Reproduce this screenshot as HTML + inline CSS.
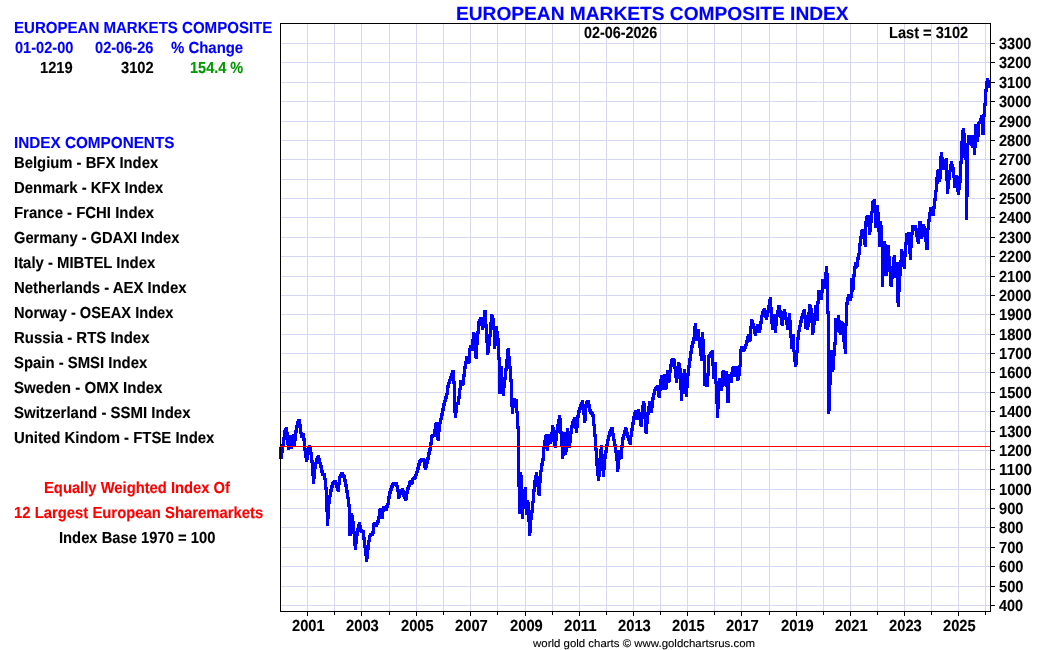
<!DOCTYPE html>
<html lang="en"><head><meta charset="utf-8"><title>European Markets Composite Index</title>
<style>
html,body{margin:0;padding:0;background:#fff;}
body{width:1050px;height:650px;position:relative;overflow:hidden;font-family:"Liberation Sans",sans-serif;}
.t{position:absolute;white-space:nowrap;font-weight:bold;font-size:16px;line-height:20px;height:20px;color:#000;transform-origin:0 0;text-rendering:geometricPrecision;-webkit-text-stroke:0.12px currentColor;}
.b{color:#0000ff;}
.g{color:#009900;}
.r{color:#ff0000;}
.title{font-size:19px;line-height:24px;height:24px;}
.foot{font-weight:normal;font-size:11px;line-height:14px;height:14px;}
</style></head>
<body>
<svg width="1050" height="650" viewBox="0 0 1050 650" style="position:absolute;left:0;top:0">
<g shape-rendering="crispEdges">
<path d="M307.5 24V611M334.5 24V611M361.5 24V611M389.5 24V611M416.5 24V611M443.5 24V611M470.5 24V611M497.5 24V611M525.5 24V611M552.5 24V611M579.5 24V611M606.5 24V611M633.5 24V611M660.5 24V611M687.5 24V611M714.5 24V611M741.5 24V611M769.5 24V611M796.5 24V611M823.5 24V611M850.5 24V611M877.5 24V611M904.5 24V611M931.5 24V611M958.5 24V611M985.5 24V611M281 43.5H990M281 62.5H990M281 82.5H990M281 101.5H990M281 121.5H990M281 140.5H990M281 159.5H990M281 179.5H990M281 198.5H990M281 217.5H990M281 237.5H990M281 256.5H990M281 276.5H990M281 295.5H990M281 314.5H990M281 334.5H990M281 353.5H990M281 372.5H990M281 392.5H990M281 411.5H990M281 431.5H990M281 450.5H990M281 469.5H990M281 489.5H990M281 508.5H990M281 527.5H990M281 547.5H990M281 566.5H990M281 586.5H990M281 605.5H990" stroke="#d5d7f4" stroke-width="1" fill="none"/>
</g>
<path d="M279 447h2v12h-2zM281 444h1v15h-1zM282 437h1v22h-1zM283 430h1v23h-1zM284 428h1v19h-1zM285 427h1v13h-1zM286 427h1v18h-1zM287 427h1v23h-1zM288 432h1v18h-1zM289 435h1v15h-1zM290 435h2v14h-2zM292 434h1v15h-1zM293 434h1v13h-1zM294 430h1v17h-1zM295 425h1v22h-1zM296 421h1v20h-1zM297 419h1v14h-1zM298 419h1v9h-1zM299 419h1v15h-1zM300 419h1v19h-1zM301 424h1v14h-1zM302 432h1v9h-1zM303 433h1v18h-1zM304 433h1v25h-1zM305 438h1v24h-1zM306 448h1v14h-1zM307 447h1v15h-1zM308 445h1v15h-1zM309 445h1v10h-1zM310 445h1v18h-1zM311 446h1v30h-1zM312 452h1v32h-1zM313 460h1v24h-1zM314 462h1v22h-1zM315 458h1v21h-1zM316 456h1v13h-1zM317 455h2v9h-2zM319 455h1v13h-1zM320 458h1v15h-1zM321 462h1v14h-1zM322 465h1v11h-1zM323 470h1v10h-1zM324 473h1v17h-1zM325 473h1v39h-1zM326 478h1v48h-1zM327 487h1v39h-1zM328 495h1v31h-1zM329 489h1v30h-1zM330 485h1v19h-1zM331 482h1v15h-1zM332 481h1v11h-1zM333 480h1v8h-1zM334 480h1v5h-1zM335 480h1v8h-1zM336 480h1v11h-1zM337 482h1v10h-1zM338 476h1v16h-1zM339 474h1v18h-1zM340 472h1v13h-1zM341 472h2v6h-2zM343 472h1v10h-1zM344 474h1v13h-1zM345 475h1v18h-1zM346 479h1v20h-1zM347 484h1v23h-1zM348 490h1v46h-1zM349 497h1v39h-1zM350 504h1v32h-1zM351 513h1v23h-1zM352 513h1v21h-1zM353 515h1v31h-1zM354 521h1v29h-1zM355 531h1v19h-1zM356 528h1v22h-1zM357 524h1v20h-1zM358 522h1v14h-1zM359 522h1v10h-1zM360 522h1v11h-1zM361 525h1v8h-1zM362 529h1v11h-1zM363 530h1v18h-1zM364 530h1v26h-1zM365 537h1v25h-1zM366 545h1v17h-1zM367 540h1v22h-1zM368 535h1v24h-1zM369 533h1v17h-1zM370 533h1v9h-1zM371 531h1v6h-1zM372 523h1v13h-1zM373 522h1v14h-1zM374 522h1v12h-1zM375 522h1v5h-1zM376 520h1v7h-1zM377 516h1v11h-1zM378 509h1v16h-1zM379 508h1v15h-1zM380 508h2v11h-2zM382 506h2v13h-2zM384 506h1v6h-1zM385 505h1v6h-1zM386 503h1v8h-1zM387 496h1v15h-1zM388 491h1v17h-1zM389 488h1v17h-1zM390 485h1v14h-1zM391 483h1v11h-1zM392 482h1v9h-1zM393 482h1v6h-1zM394 482h1v4h-1zM395 482h1v5h-1zM396 482h1v10h-1zM397 482h1v17h-1zM398 485h1v14h-1zM399 489h1v10h-1zM400 489h1v9h-1zM401 488h1v7h-1zM402 488h1v9h-1zM403 488h1v11h-1zM404 490h1v11h-1zM405 491h1v10h-1zM406 487h1v14h-1zM407 485h1v15h-1zM408 481h1v13h-1zM409 480h1v10h-1zM410 480h1v7h-1zM411 478h1v7h-1zM412 477h1v8h-1zM413 476h1v8h-1zM414 474h1v6h-1zM415 471h1v9h-1zM416 467h1v12h-1zM417 463h1v13h-1zM418 460h1v13h-1zM419 459h1v11h-1zM420 458h1v8h-1zM421 458h1v5h-1zM422 458h1v4h-1zM423 458h1v10h-1zM424 458h1v12h-1zM425 459h1v11h-1zM426 457h1v13h-1zM427 452h1v16h-1zM428 448h1v16h-1zM429 442h1v18h-1zM430 435h1v20h-1zM431 434h1v17h-1zM432 434h1v11h-1zM433 429h1v9h-1zM434 423h1v14h-1zM435 422h1v15h-1zM436 422h1v18h-1zM437 422h2v19h-2zM439 418h1v23h-1zM440 413h1v19h-1zM441 408h1v16h-1zM442 403h1v17h-1zM443 400h1v16h-1zM444 396h1v15h-1zM445 393h1v13h-1zM446 385h1v17h-1zM447 382h1v17h-1zM448 379h1v16h-1zM449 376h1v12h-1zM450 373h1v11h-1zM451 370h1v11h-1zM452 370h1v14h-1zM453 370h1v43h-1zM454 370h1v48h-1zM455 381h1v37h-1zM456 402h1v16h-1zM457 396h1v17h-1zM458 388h1v17h-1zM459 380h1v25h-1zM460 380h1v19h-1zM461 380h1v10h-1zM462 374h1v12h-1zM463 366h1v20h-1zM464 361h1v24h-1zM465 356h1v21h-1zM466 356h1v13h-1zM467 356h1v8h-1zM468 348h1v16h-1zM469 345h1v19h-1zM470 345h1v18h-1zM471 339h1v12h-1zM472 332h2v19h-2zM474 332h1v26h-1zM475 333h1v26h-1zM476 331h1v28h-1zM477 321h1v38h-1zM478 319h1v26h-1zM479 317h1v17h-1zM480 317h1v9h-1zM481 317h2v13h-2zM483 310h1v20h-1zM484 310h1v18h-1zM485 310h1v33h-1zM486 310h1v45h-1zM487 324h1v31h-1zM488 334h1v21h-1zM489 322h1v31h-1zM490 314h1v32h-1zM491 314h1v23h-1zM492 314h1v16h-1zM493 315h1v34h-1zM494 318h1v31h-1zM495 326h1v23h-1zM496 326h1v20h-1zM497 326h1v34h-1zM498 331h1v63h-1zM499 338h1v56h-1zM500 357h1v37h-1zM501 366h1v28h-1zM502 366h1v30h-1zM503 377h1v19h-1zM504 368h1v28h-1zM505 359h1v29h-1zM506 349h1v31h-1zM507 348h1v23h-1zM508 348h1v21h-1zM509 348h1v34h-1zM510 356h1v51h-1zM511 366h1v48h-1zM512 379h1v35h-1zM513 398h1v16h-1zM514 398h1v10h-1zM515 398h1v15h-1zM516 399h1v30h-1zM517 399h1v88h-1zM518 411h1v103h-1zM519 426h1v88h-1zM520 472h1v42h-1zM521 472h1v47h-1zM522 475h1v44h-1zM523 489h1v30h-1zM524 487h1v22h-1zM525 487h2v28h-2zM527 500h1v22h-1zM528 500h1v36h-1zM529 502h1v34h-1zM530 510h1v26h-1zM531 501h1v32h-1zM532 489h1v31h-1zM533 480h1v33h-1zM534 475h1v28h-1zM535 472h1v20h-1zM536 472h1v15h-1zM537 472h1v23h-1zM538 476h1v20h-1zM539 470h1v26h-1zM540 463h1v33h-1zM541 458h1v25h-1zM542 446h1v26h-1zM543 440h1v26h-1zM544 435h1v26h-1zM545 434h1v15h-1zM546 434h3v17h-3zM549 434h1v11h-1zM550 432h1v12h-1zM551 425h1v19h-1zM552 425h1v17h-1zM553 425h1v22h-1zM554 427h1v21h-1zM555 430h1v18h-1zM556 424h1v24h-1zM557 419h1v22h-1zM558 415h1v18h-1zM559 415h1v19h-1zM560 415h1v32h-1zM561 418h1v41h-1zM562 431h1v28h-1zM563 432h1v27h-1zM564 432h1v24h-1zM565 432h1v23h-1zM566 428h1v27h-1zM567 428h1v24h-1zM568 428h1v20h-1zM569 431h1v17h-1zM570 425h1v23h-1zM571 421h1v22h-1zM572 419h1v15h-1zM573 417h1v11h-1zM574 417h1v12h-1zM575 417h1v16h-1zM576 415h1v18h-1zM577 410h1v23h-1zM578 407h1v21h-1zM579 404h1v14h-1zM580 402h1v11h-1zM581 400h1v10h-1zM582 400h1v15h-1zM583 400h1v23h-1zM584 404h1v19h-1zM585 401h1v22h-1zM586 400h1v21h-1zM587 400h1v8h-1zM588 400h1v12h-1zM589 400h1v14h-1zM590 404h1v11h-1zM591 409h1v8h-1zM592 411h1v15h-1zM593 412h1v25h-1zM594 414h1v37h-1zM595 424h1v42h-1zM596 434h1v42h-1zM597 448h1v33h-1zM598 458h1v23h-1zM599 449h1v32h-1zM600 445h1v32h-1zM601 445h1v26h-1zM602 445h1v32h-1zM603 454h1v23h-1zM604 450h1v27h-1zM605 444h1v26h-1zM606 439h1v20h-1zM607 435h1v18h-1zM608 431h1v16h-1zM609 429h1v12h-1zM610 427h1v10h-1zM611 427h1v9h-1zM612 427h1v14h-1zM613 427h1v20h-1zM614 433h1v20h-1zM615 439h1v22h-1zM616 444h1v28h-1zM617 450h2v22h-2zM619 450h1v19h-1zM620 445h1v15h-1zM621 437h1v22h-1zM622 434h1v25h-1zM623 430h1v18h-1zM624 427h1v13h-1zM625 427h1v9h-1zM626 427h1v11h-1zM627 428h1v13h-1zM628 432h1v12h-1zM629 435h1v10h-1zM630 428h1v17h-1zM631 422h1v23h-1zM632 416h1v21h-1zM633 412h1v19h-1zM634 410h1v15h-1zM635 410h2v10h-2zM637 409h2v11h-2zM639 409h1v17h-1zM640 412h1v15h-1zM641 405h1v22h-1zM642 401h1v26h-1zM643 401h1v18h-1zM644 401h1v32h-1zM645 403h1v31h-1zM646 412h1v22h-1zM647 406h1v28h-1zM648 401h1v23h-1zM649 401h1v14h-1zM650 401h1v12h-1zM651 397h1v16h-1zM652 393h1v20h-1zM653 389h1v19h-1zM654 387h1v13h-1zM655 386h1v9h-1zM656 385h1v6h-1zM657 385h1v12h-1zM658 385h1v13h-1zM659 379h1v19h-1zM660 375h1v23h-1zM661 375h1v16h-1zM662 375h1v15h-1zM663 374h3v16h-3zM666 370h1v20h-1zM667 370h1v19h-1zM668 370h1v13h-1zM669 364h1v19h-1zM670 359h1v23h-1zM671 358h1v15h-1zM672 358h1v9h-1zM673 358h1v11h-1zM674 358h1v20h-1zM675 359h1v24h-1zM676 366h1v17h-1zM677 362h1v21h-1zM678 362h1v17h-1zM679 362h1v28h-1zM680 363h1v38h-1zM681 368h1v33h-1zM682 373h1v28h-1zM683 369h2v25h-2zM685 369h1v28h-1zM686 373h1v24h-1zM687 365h1v32h-1zM688 358h1v30h-1zM689 351h1v25h-1zM690 345h1v23h-1zM691 341h1v20h-1zM692 337h1v17h-1zM693 326h1v22h-1zM694 323h1v21h-1zM695 323h2v18h-2zM697 329h1v12h-1zM698 329h1v19h-1zM699 329h1v27h-1zM700 337h1v24h-1zM701 332h2v29h-2zM703 332h1v54h-1zM704 339h1v47h-1zM705 355h1v32h-1zM706 373h1v14h-1zM707 355h1v32h-1zM708 354h1v33h-1zM709 352h1v24h-1zM710 351h1v7h-1zM711 350h1v16h-1zM712 350h2v29h-2zM714 362h1v22h-1zM715 362h1v42h-1zM716 362h1v56h-1zM717 381h1v37h-1zM718 378h1v40h-1zM719 378h1v31h-1zM720 378h1v13h-1zM721 371h1v20h-1zM722 370h1v21h-1zM723 370h1v17h-1zM724 370h1v16h-1zM725 371h1v16h-1zM726 371h2v32h-2zM728 374h2v29h-2zM730 372h1v11h-1zM731 367h1v16h-1zM732 366h1v17h-1zM733 366h3v11h-3zM736 366h2v15h-2zM738 365h1v16h-1zM739 349h1v31h-1zM740 346h1v30h-1zM741 346h1v21h-1zM742 346h2v6h-2zM744 344h1v8h-1zM745 340h1v11h-1zM746 336h1v13h-1zM747 334h1v12h-1zM748 334h1v9h-1zM749 326h1v16h-1zM750 319h1v23h-1zM751 319h1v22h-1zM752 319h1v10h-1zM753 320h1v14h-1zM754 323h1v13h-1zM755 326h1v10h-1zM756 324h1v12h-1zM757 324h2v9h-2zM759 321h1v12h-1zM760 315h1v18h-1zM761 311h1v19h-1zM762 309h1v15h-1zM763 308h1v9h-1zM764 308h1v10h-1zM765 308h1v12h-1zM766 310h1v10h-1zM767 305h1v15h-1zM768 299h1v18h-1zM769 297h1v16h-1zM770 297h1v27h-1zM771 297h1v33h-1zM772 307h1v23h-1zM773 314h1v16h-1zM774 314h2v19h-2zM776 310h1v23h-1zM777 305h1v21h-1zM778 305h1v12h-1zM779 305h1v13h-1zM780 305h1v20h-1zM781 310h1v16h-1zM782 311h1v15h-1zM783 309h1v17h-1zM784 309h1v11h-1zM785 309h1v16h-1zM786 312h1v18h-1zM787 317h1v13h-1zM788 313h1v17h-1zM789 313h1v25h-1zM790 313h1v36h-1zM791 320h1v29h-1zM792 334h1v18h-1zM793 334h1v28h-1zM794 334h1v33h-1zM795 350h1v17h-1zM796 337h1v30h-1zM797 330h1v35h-1zM798 325h1v28h-1zM799 320h1v20h-1zM800 316h1v16h-1zM801 313h1v14h-1zM802 310h1v13h-1zM803 309h1v10h-1zM804 309h2v20h-2zM806 315h1v15h-1zM807 312h1v18h-1zM808 304h1v26h-1zM809 304h1v23h-1zM810 304h1v19h-1zM811 305h1v30h-1zM812 308h1v27h-1zM813 313h1v22h-1zM814 305h1v28h-1zM815 305h1v20h-1zM816 301h1v20h-1zM817 290h2v31h-2zM819 290h1v14h-1zM820 290h1v10h-1zM821 279h2v21h-2zM823 279h1v14h-1zM824 272h1v17h-1zM825 266h1v23h-1zM826 266h1v48h-1zM827 266h1v148h-1zM828 273h1v141h-1zM829 311h1v103h-1zM830 350h1v61h-1zM831 350h1v35h-1zM832 350h1v22h-1zM833 342h1v30h-1zM834 318h1v52h-1zM835 318h1v38h-1zM836 318h1v27h-1zM837 315h1v17h-1zM838 315h1v18h-1zM839 315h1v20h-1zM840 320h1v15h-1zM841 321h1v14h-1zM842 321h1v21h-1zM843 322h1v27h-1zM844 323h1v31h-1zM845 302h1v52h-1zM846 297h1v57h-1zM847 294h1v32h-1zM848 294h1v11h-1zM849 294h1v7h-1zM850 278h2v23h-2zM852 274h1v24h-1zM853 266h1v26h-1zM854 262h1v28h-1zM855 262h1v15h-1zM856 257h1v12h-1zM857 253h1v15h-1zM858 243h1v24h-1zM859 236h1v24h-1zM860 230h1v25h-1zM861 229h1v17h-1zM862 229h1v10h-1zM863 229h1v16h-1zM864 221h1v26h-1zM865 216h1v31h-1zM866 215h1v32h-1zM867 215h1v12h-1zM868 215h2v20h-2zM870 211h1v24h-1zM871 201h1v31h-1zM872 200h1v23h-1zM873 199h1v14h-1zM874 199h2v29h-2zM876 205h1v23h-1zM877 205h1v27h-1zM878 205h1v42h-1zM879 212h1v35h-1zM880 221h1v26h-1zM881 221h1v66h-1zM882 225h1v62h-1zM883 241h1v46h-1zM884 241h2v35h-2zM886 244h1v32h-1zM887 245h1v31h-1zM888 245h1v27h-1zM889 245h1v41h-1zM890 256h1v31h-1zM891 266h1v21h-1zM892 257h1v30h-1zM893 255h1v24h-1zM894 255h2v23h-2zM896 262h1v41h-1zM897 262h2v45h-2zM899 260h1v47h-1zM900 249h1v43h-1zM901 249h1v27h-1zM902 249h1v18h-1zM903 251h1v18h-1zM904 242h1v27h-1zM905 233h1v36h-1zM906 233h1v24h-1zM907 232h1v13h-1zM908 232h1v22h-1zM909 232h2v28h-2zM911 225h1v35h-1zM912 225h1v23h-1zM913 225h1v10h-1zM914 225h1v6h-1zM915 225h1v12h-1zM916 225h1v17h-1zM917 228h1v16h-1zM918 221h2v23h-2zM920 221h2v18h-2zM922 224h1v15h-1zM923 224h1v13h-1zM924 224h1v18h-1zM925 226h1v24h-1zM926 228h1v22h-1zM927 219h1v31h-1zM928 212h1v38h-1zM929 207h1v23h-1zM930 207h1v15h-1zM931 207h1v9h-1zM932 206h1v10h-1zM933 198h1v18h-1zM934 190h1v26h-1zM935 177h1v32h-1zM936 170h1v31h-1zM937 169h1v23h-1zM938 169h1v15h-1zM939 156h1v26h-1zM940 152h1v30h-1zM941 152h1v27h-1zM942 152h1v18h-1zM943 157h1v13h-1zM944 159h1v11h-1zM945 158h1v23h-1zM946 158h2v36h-2zM948 170h1v24h-1zM949 164h1v25h-1zM950 161h1v19h-1zM951 161h1v11h-1zM952 161h1v17h-1zM953 164h1v24h-1zM954 167h1v21h-1zM955 175h1v13h-1zM956 175h1v17h-1zM957 175h1v20h-1zM958 176h1v19h-1zM959 161h1v34h-1zM960 141h1v49h-1zM961 130h1v53h-1zM962 128h1v36h-1zM963 128h1v30h-1zM964 128h1v32h-1zM965 133h1v87h-1zM966 143h1v77h-1zM967 135h1v85h-1zM968 135h1v62h-1zM969 135h1v10h-1zM970 135h1v11h-1zM971 135h2v13h-2zM973 135h1v20h-1zM974 124h2v31h-2zM976 124h1v24h-1zM977 122h1v20h-1zM978 121h1v21h-1zM979 118h1v19h-1zM980 115h1v9h-1zM981 115h1v20h-1zM982 114h1v21h-1zM983 103h1v32h-1zM984 89h1v46h-1zM985 81h1v36h-1zM986 78h1v28h-1zM987 78h1v14h-1zM988 78h1v10h-1zM989 80h1v8h-1z" fill="#0000ff" shape-rendering="crispEdges"/>
<g shape-rendering="crispEdges">
<rect x="280.5" y="23.5" width="710" height="588" fill="none" stroke="#000" stroke-width="1"/>
<path d="M991 43.5h4M991 62.5h4M991 82.5h4M991 101.5h4M991 121.5h4M991 140.5h4M991 159.5h4M991 179.5h4M991 198.5h4M991 217.5h4M991 237.5h4M991 256.5h4M991 276.5h4M991 295.5h4M991 314.5h4M991 334.5h4M991 353.5h4M991 372.5h4M991 392.5h4M991 411.5h4M991 431.5h4M991 450.5h4M991 469.5h4M991 489.5h4M991 508.5h4M991 527.5h4M991 547.5h4M991 566.5h4M991 586.5h4M991 605.5h4M307.5 612v4M334.5 612v3M361.5 612v4M389.5 612v3M416.5 612v4M443.5 612v3M470.5 612v4M497.5 612v3M525.5 612v4M552.5 612v3M579.5 612v4M606.5 612v3M633.5 612v4M660.5 612v3M687.5 612v4M714.5 612v3M741.5 612v4M769.5 612v3M796.5 612v4M823.5 612v3M850.5 612v4M877.5 612v3M904.5 612v4M931.5 612v3M958.5 612v4M985.5 612v3" stroke="#000" stroke-width="1" fill="none"/>
<path d="M280 446.5H990" stroke="#ff0000" stroke-width="1" fill="none"/>
</g>
</svg>
<div class="t b" style="left:14.00px;top:19.00px;transform:scaleX(0.9405)">EUROPEAN MARKETS COMPOSITE</div>
<div class="t b" style="left:14.89px;top:39.00px;transform:scaleX(0.9109)">01-02-00</div>
<div class="t b" style="left:94.69px;top:39.00px;transform:scaleX(0.9132)">02-06-26</div>
<div class="t b" style="left:170.98px;top:39.00px;transform:scaleX(0.9332)">% Change</div>
<div class="t " style="left:40.36px;top:59.00px;transform:scaleX(0.9182)">1219</div>
<div class="t " style="left:120.60px;top:59.00px;transform:scaleX(0.9170)">3102</div>
<div class="t g" style="left:189.78px;top:59.00px;transform:scaleX(0.9065)">154.4 %</div>
<div class="t b" style="left:14.00px;top:134.00px;transform:scaleX(0.9548)">INDEX COMPONENTS</div>
<div class="t " style="left:14.00px;top:154.00px;transform:scaleX(0.9267)">Belgium - BFX Index</div>
<div class="t " style="left:14.00px;top:179.00px;transform:scaleX(0.9275)">Denmark - KFX Index</div>
<div class="t " style="left:14.00px;top:204.00px;transform:scaleX(0.9327)">France - FCHI Index</div>
<div class="t " style="left:14.00px;top:229.00px;transform:scaleX(0.9163)">Germany - GDAXI Index</div>
<div class="t " style="left:14.00px;top:254.00px;transform:scaleX(0.9307)">Italy - MIBTEL Index</div>
<div class="t " style="left:14.00px;top:279.00px;transform:scaleX(0.9314)">Netherlands - AEX Index</div>
<div class="t " style="left:14.00px;top:304.00px;transform:scaleX(0.9144)">Norway - OSEAX Index</div>
<div class="t " style="left:14.00px;top:329.00px;transform:scaleX(0.9347)">Russia - RTS Index</div>
<div class="t " style="left:14.00px;top:354.00px;transform:scaleX(0.9308)">Spain - SMSI Index</div>
<div class="t " style="left:14.00px;top:379.00px;transform:scaleX(0.9435)">Sweden - OMX Index</div>
<div class="t " style="left:14.00px;top:404.00px;transform:scaleX(0.9363)">Switzerland - SSMI Index</div>
<div class="t " style="left:14.00px;top:429.00px;transform:scaleX(0.9312)">United Kindom - FTSE Index</div>
<div class="t r" style="left:44.09px;top:479.00px;transform:scaleX(0.9232)">Equally Weighted Index Of</div>
<div class="t r" style="left:14.05px;top:504.00px;transform:scaleX(0.9280)">12 Largest European Sharemarkets</div>
<div class="t " style="left:59.29px;top:529.00px;transform:scaleX(0.9230)">Index Base 1970 = 100</div>
<div class="t b title" style="left:455.51px;top:3.00px;transform:scaleX(1.0078)">EUROPEAN MARKETS COMPOSITE INDEX</div>
<div class="t " style="left:584.00px;top:24.00px;transform:scaleX(0.8957)">02-06-2026</div>
<div class="t " style="left:888.70px;top:24.00px;transform:scaleX(0.9128)">Last = 3102</div>
<div class="t foot" style="left:533.25px;top:637.00px;transform:scaleX(1.0403)">world gold charts © www.goldchartsrus.com</div>
<div class="t " style="left:999.01px;top:35.00px;transform:scaleX(0.9065)">3300</div>
<div class="t " style="left:999.01px;top:54.00px;transform:scaleX(0.9065)">3200</div>
<div class="t " style="left:999.01px;top:74.00px;transform:scaleX(0.9065)">3100</div>
<div class="t " style="left:999.01px;top:93.00px;transform:scaleX(0.9065)">3000</div>
<div class="t " style="left:998.98px;top:113.00px;transform:scaleX(0.9072)">2900</div>
<div class="t " style="left:998.98px;top:132.00px;transform:scaleX(0.9072)">2800</div>
<div class="t " style="left:998.98px;top:151.00px;transform:scaleX(0.9072)">2700</div>
<div class="t " style="left:998.98px;top:171.00px;transform:scaleX(0.9072)">2600</div>
<div class="t " style="left:998.98px;top:190.00px;transform:scaleX(0.9072)">2500</div>
<div class="t " style="left:998.98px;top:209.00px;transform:scaleX(0.9072)">2400</div>
<div class="t " style="left:998.98px;top:229.00px;transform:scaleX(0.9072)">2300</div>
<div class="t " style="left:998.98px;top:248.00px;transform:scaleX(0.9072)">2200</div>
<div class="t " style="left:998.98px;top:268.00px;transform:scaleX(0.9072)">2100</div>
<div class="t " style="left:998.98px;top:287.00px;transform:scaleX(0.9072)">2000</div>
<div class="t " style="left:998.56px;top:306.00px;transform:scaleX(0.9192)">1900</div>
<div class="t " style="left:998.56px;top:326.00px;transform:scaleX(0.9192)">1800</div>
<div class="t " style="left:998.56px;top:345.00px;transform:scaleX(0.9192)">1700</div>
<div class="t " style="left:998.56px;top:364.00px;transform:scaleX(0.9192)">1600</div>
<div class="t " style="left:998.56px;top:384.00px;transform:scaleX(0.9192)">1500</div>
<div class="t " style="left:998.56px;top:403.00px;transform:scaleX(0.9192)">1400</div>
<div class="t " style="left:998.56px;top:423.00px;transform:scaleX(0.9192)">1300</div>
<div class="t " style="left:998.56px;top:442.00px;transform:scaleX(0.9192)">1200</div>
<div class="t " style="left:998.53px;top:461.00px;transform:scaleX(0.9471)">1100</div>
<div class="t " style="left:998.56px;top:481.00px;transform:scaleX(0.9192)">1000</div>
<div class="t " style="left:998.94px;top:500.00px;transform:scaleX(0.9154)">900</div>
<div class="t " style="left:998.95px;top:519.00px;transform:scaleX(0.9147)">800</div>
<div class="t " style="left:998.87px;top:539.00px;transform:scaleX(0.9181)">700</div>
<div class="t " style="left:998.92px;top:558.00px;transform:scaleX(0.9159)">600</div>
<div class="t " style="left:998.84px;top:578.00px;transform:scaleX(0.9191)">500</div>
<div class="t " style="left:999.26px;top:597.00px;transform:scaleX(0.9029)">400</div>
<div class="t " style="left:291.68px;top:617.00px;transform:scaleX(0.9153)">2001</div>
<div class="t " style="left:345.68px;top:617.00px;transform:scaleX(0.9213)">2003</div>
<div class="t " style="left:400.68px;top:617.00px;transform:scaleX(0.9169)">2005</div>
<div class="t " style="left:454.68px;top:617.00px;transform:scaleX(0.9222)">2007</div>
<div class="t " style="left:509.68px;top:617.00px;transform:scaleX(0.9207)">2009</div>
<div class="t " style="left:563.66px;top:617.00px;transform:scaleX(0.9425)">2011</div>
<div class="t " style="left:617.68px;top:617.00px;transform:scaleX(0.9213)">2013</div>
<div class="t " style="left:671.68px;top:617.00px;transform:scaleX(0.9169)">2015</div>
<div class="t " style="left:725.68px;top:617.00px;transform:scaleX(0.9222)">2017</div>
<div class="t " style="left:780.68px;top:617.00px;transform:scaleX(0.9207)">2019</div>
<div class="t " style="left:834.68px;top:617.00px;transform:scaleX(0.9153)">2021</div>
<div class="t " style="left:888.68px;top:617.00px;transform:scaleX(0.9213)">2023</div>
<div class="t " style="left:942.68px;top:617.00px;transform:scaleX(0.9169)">2025</div>
</body></html>
